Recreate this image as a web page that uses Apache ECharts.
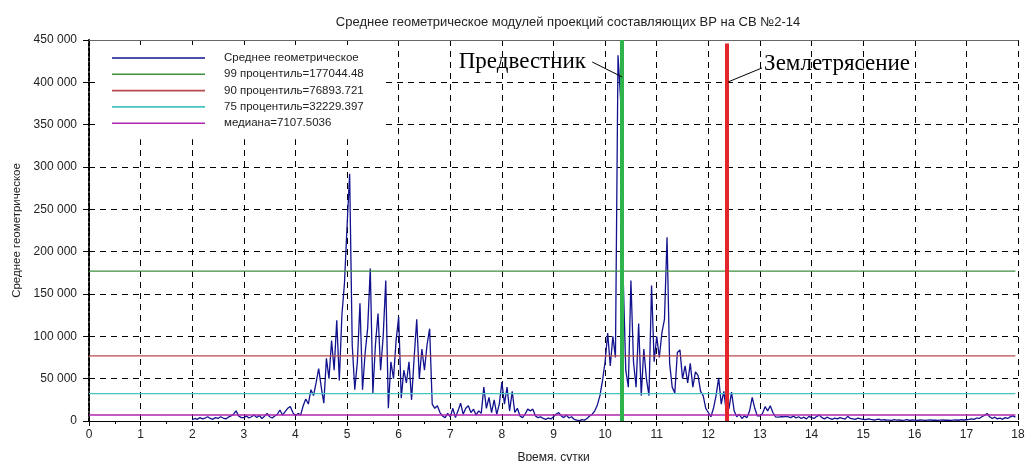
<!DOCTYPE html>
<html>
<head>
<meta charset="utf-8">
<script src="https://cdn.jsdelivr.net/npm/echarts@6/dist/echarts.min.js"></script>
<style>
  html, body { margin: 0; padding: 0; background: #fff; }
  #chart { width: 1026px; height: 461px; }
</style>
</head>
<body>
<div id="chart"></div>
<script>
// Geometric mean of the projection moduli, sampled every 0.05 day, one row per day (from day 2)
const startDay = 2;
const stepDay = 0.05;
const meanDay2  = [1500, 3000, 2000, 4000, 2500, 3500, 5000, 3000, 2000, 4000, 3000, 5000, 3500, 2500, 4500, 6000, 8000, 12000, 6000, 4000];
const meanDay3  = [4000, 6000, 3500, 5000, 7000, 4000, 6500, 3000, 5500, 9000, 5000, 3500, 6000, 8000, 13000, 7000, 11000, 15000, 17000, 10000];
const meanDay4  = [6000, 9000, 7000, 18000, 26000, 20000, 37000, 30000, 45000, 62000, 40000, 21000, 74000, 50000, 95000, 60000, 119000, 48000, 125000, 163000];
const meanDay5  = [230000, 292000, 90000, 37000, 70000, 139000, 37000, 80000, 110000, 180000, 33000, 90000, 127000, 60000, 100000, 166000, 15000, 70000, 50000, 95000];
const meanDay6  = [123000, 27000, 60000, 45000, 70000, 25000, 75000, 120000, 50000, 85000, 60000, 90000, 109000, 20000, 15000, 18000, 10000, 6000, 4000, 9000];
const meanDay7  = [5000, 15000, 4000, 12000, 21000, 8000, 15000, 18000, 10000, 14000, 7000, 12000, 9000, 40000, 15000, 28000, 10000, 25000, 8000, 20000];
const meanDay8  = [46000, 20000, 40000, 12000, 35000, 10000, 15000, 6000, 4000, 8000, 14000, 12000, 14000, 6000, 4000, 5000, 3000, 2000, 3500, 2500];
const meanDay9  = [5000, 8000, 10000, 6000, 4000, 7000, 3500, 5000, 2000, 1000, 500, 1500, 1000, 3000, 6000, 8000, 12000, 19000, 30000, 48000];
const meanDay10 = [70000, 104000, 65000, 100000, 75000, 432000, 380000, 170000, 60000, 40000, 166000, 70000, 40000, 115000, 30000, 85000, 50000, 30000, 160000, 70000];
const meanDay11 = [100000, 75000, 104000, 120000, 217000, 68000, 40000, 33000, 81000, 84000, 50000, 65000, 45000, 68000, 40000, 58000, 54000, 35000, 30000, 15000];
const meanDay12 = [10000, 5000, 15000, 30000, 51000, 20000, 35000, 10000, 15000, 34000, 12000, 5000, 8000, 3000, 6000, 4000, 12000, 28000, 15000, 6000];
const meanDay13 = [6000, 9000, 17000, 12000, 18000, 10000, 5000, 4500, 5000, 5000, 5500, 5000, 4000, 6000, 3500, 5000, 3000, 4500, 2500, 5500];
const meanDay14 = [4000, 3000, 5500, 7000, 4000, 2500, 4500, 3000, 2000, 3500, 2500, 4000, 3000, 2200, 5500, 3000, 2500, 2000, 3500, 2500];
const meanDay15 = [2000, 1500, 2500, 1800, 1200, 1500, 2200, 1000, 1500, 1200, 1000, 800, 1500, 1000, 1200, 700, 1000, 1500, 800, 1200];
const meanDay16 = [1000, 800, 1200, 1000, 700, 1000, 1300, 900, 1100, 800, 1000, 1200, 900, 1100, 800, 1000, 1200, 900, 1500, 1200];
const meanDay17 = [1500, 1800, 2500, 2000, 3500, 3000, 5000, 6500, 9000, 5000, 3000, 4500, 2500, 3500, 2000, 4000, 3000, 5000, 6000, 4500];

// Reference levels
const levelNames  = ['99 процентиль=177044.48', '90 процентиль=76893.721', '75 процентиль=32229.397', 'медиана=7107.5036'];
const levelValues = [177044.48, 76893.721, 32229.397, 7107.5036];
const levelColors = ['#3f8f3f', '#b84a4a', '#45c4c4', '#b026b0'];

// Events: precursor and earthquake
const eventDays   = [10.33, 12.36];
const eventTops   = [450000, 446000];
const eventColors = ['#2fb34c', '#e3262b'];
const eventLabels = ['Предвестник', 'Землетрясение'];
const labelAnchors = [[9.63, 424500], [13.08, 421500]];
const leaderFrom  = [[9.75, 424000], [13.04, 417000]];
const leaderTo    = [[10.33, 406300], [12.38, 400400]];

const xTicks = { min: 0, max: 18, interval: 1 };
const yTicks = { min: 0, max: 450000, interval: 50000 };

const meanName = 'Среднее геометрическое';
const meanValues = [].concat(meanDay2, meanDay3, meanDay4, meanDay5, meanDay6, meanDay7, meanDay8,
  meanDay9, meanDay10, meanDay11, meanDay12, meanDay13, meanDay14, meanDay15, meanDay16, meanDay17);
const meanData = meanValues.map((v, i) => [+(startDay + i * stepDay).toFixed(2), v]);
const lastDay = meanData[meanData.length - 1][0];

const fmtThousands = v => String(v).replace(/\B(?=(\d{3})+(?!\d))/g, ' ');

const chart = echarts.init(document.getElementById('chart'), null, { renderer: 'canvas' });

const gridDash = { color: '#000', width: 1, type: [6, 5] };

const series = [{
  name: meanName,
  type: 'line',
  data: meanData,
  symbol: 'none',
  z: 3,
  lineStyle: { color: '#12128f', width: 1.3 },
  itemStyle: { color: '#12128f' },
  markLine: {
    silent: true,
    symbol: 'none',
    label: { show: false },
    data: eventDays.map((d, i) => [
      { coord: [d, eventTops[i]], lineStyle: { color: eventColors[i], width: 4, type: 'solid' } },
      { coord: [d, 0] }
    ]).concat(leaderFrom.map((p, i) => [
      { coord: p, lineStyle: { color: '#000', width: 1, type: 'solid' } },
      { coord: leaderTo[i] }
    ]))
  },
  markPoint: {
    silent: true,
    symbol: 'circle',
    symbolSize: 0.1,
    data: eventLabels.map((t, i) => ({
      coord: labelAnchors[i],
      itemStyle: { color: 'transparent' },
      label: {
        show: true,
        formatter: t,
        position: i === 0 ? 'left' : 'right',
        distance: 0,
        color: '#000',
        fontFamily: 'Liberation Serif',
        fontSize: 23
      }
    }))
  }
}];

levelValues.forEach((v, i) => {
  series.push({
    name: levelNames[i],
    type: 'line',
    data: [[0, v], [lastDay, v]],
    symbol: 'none',
    z: 4,
    lineStyle: { color: levelColors[i], width: 1.3 },
    itemStyle: { color: levelColors[i] }
  });
});

chart.setOption({
  animation: false,
  backgroundColor: '#fff',
  title: {
    text: 'Среднее геометрическое модулей проекций составляющих ВР на СВ №2-14',
    left: 563,
    textAlign: 'center',
    top: 11,
    textStyle: { fontFamily: 'Liberation Sans', fontSize: 13, fontWeight: 'normal', color: '#222' }
  },
  legend: {
    orient: 'vertical',
    left: 97,
    top: 45,
    padding: [6, 22, 9, 15],
    backgroundColor: '#fff',
    icon: 'rect',
    itemWidth: 93,
    itemHeight: 1.6,
    itemGap: 2.3,
    data: [meanName].concat(levelNames),
    textStyle: { fontFamily: 'Liberation Sans', fontSize: 11.5, color: '#222', lineHeight: 14, padding: [0, 0, 0, 14] }
  },
  grid: { left: 89, right: 8, top: 40, bottom: 40, containLabel: false, outerBoundsMode: 'none' },
  xAxis: [{
    type: 'value',
    min: xTicks.min, max: xTicks.max, interval: xTicks.interval,
    name: 'Время, сутки',
    nameLocation: 'middle',
    nameGap: 31,
    nameTextStyle: { fontFamily: 'Liberation Sans', fontSize: 12, color: '#222' },
    axisLine: { onZero: false, lineStyle: { color: '#000', width: 1.2 } },
    axisTick: { show: true, length: 5, lineStyle: { color: '#000' } },
    minorTick: { show: true, splitNumber: 2, length: 3, lineStyle: { color: '#000' } },
    axisLabel: { margin: 8, fontFamily: 'Liberation Sans', fontSize: 12, color: '#222' },
    splitLine: { show: true, lineStyle: gridDash }
  }, {
    type: 'value',
    position: 'top',
    min: xTicks.min, max: xTicks.max, interval: xTicks.interval,
    axisLine: { show: true, onZero: false, lineStyle: { color: '#666', width: 1.2 } },
    axisTick: { show: false },
    axisLabel: { show: false },
    splitLine: { show: false }
  }],
  yAxis: {
    type: 'value',
    min: yTicks.min, max: yTicks.max, interval: yTicks.interval,
    name: meanName,
    nameLocation: 'middle',
    nameGap: 66,
    nameTextStyle: { fontFamily: 'Liberation Sans', fontSize: 11.5, color: '#222' },
    axisLine: { show: true, lineStyle: { color: '#000', width: 2, type: [3, 2] } },
    axisTick: { show: true, length: 6, lineStyle: { color: '#000' } },
    axisLabel: { margin: 12, fontFamily: 'Liberation Sans', fontSize: 12, color: '#222', formatter: fmtThousands },
    splitLine: { show: true, lineStyle: gridDash }
  },
  series: series
});
</script>
</body>
</html>
